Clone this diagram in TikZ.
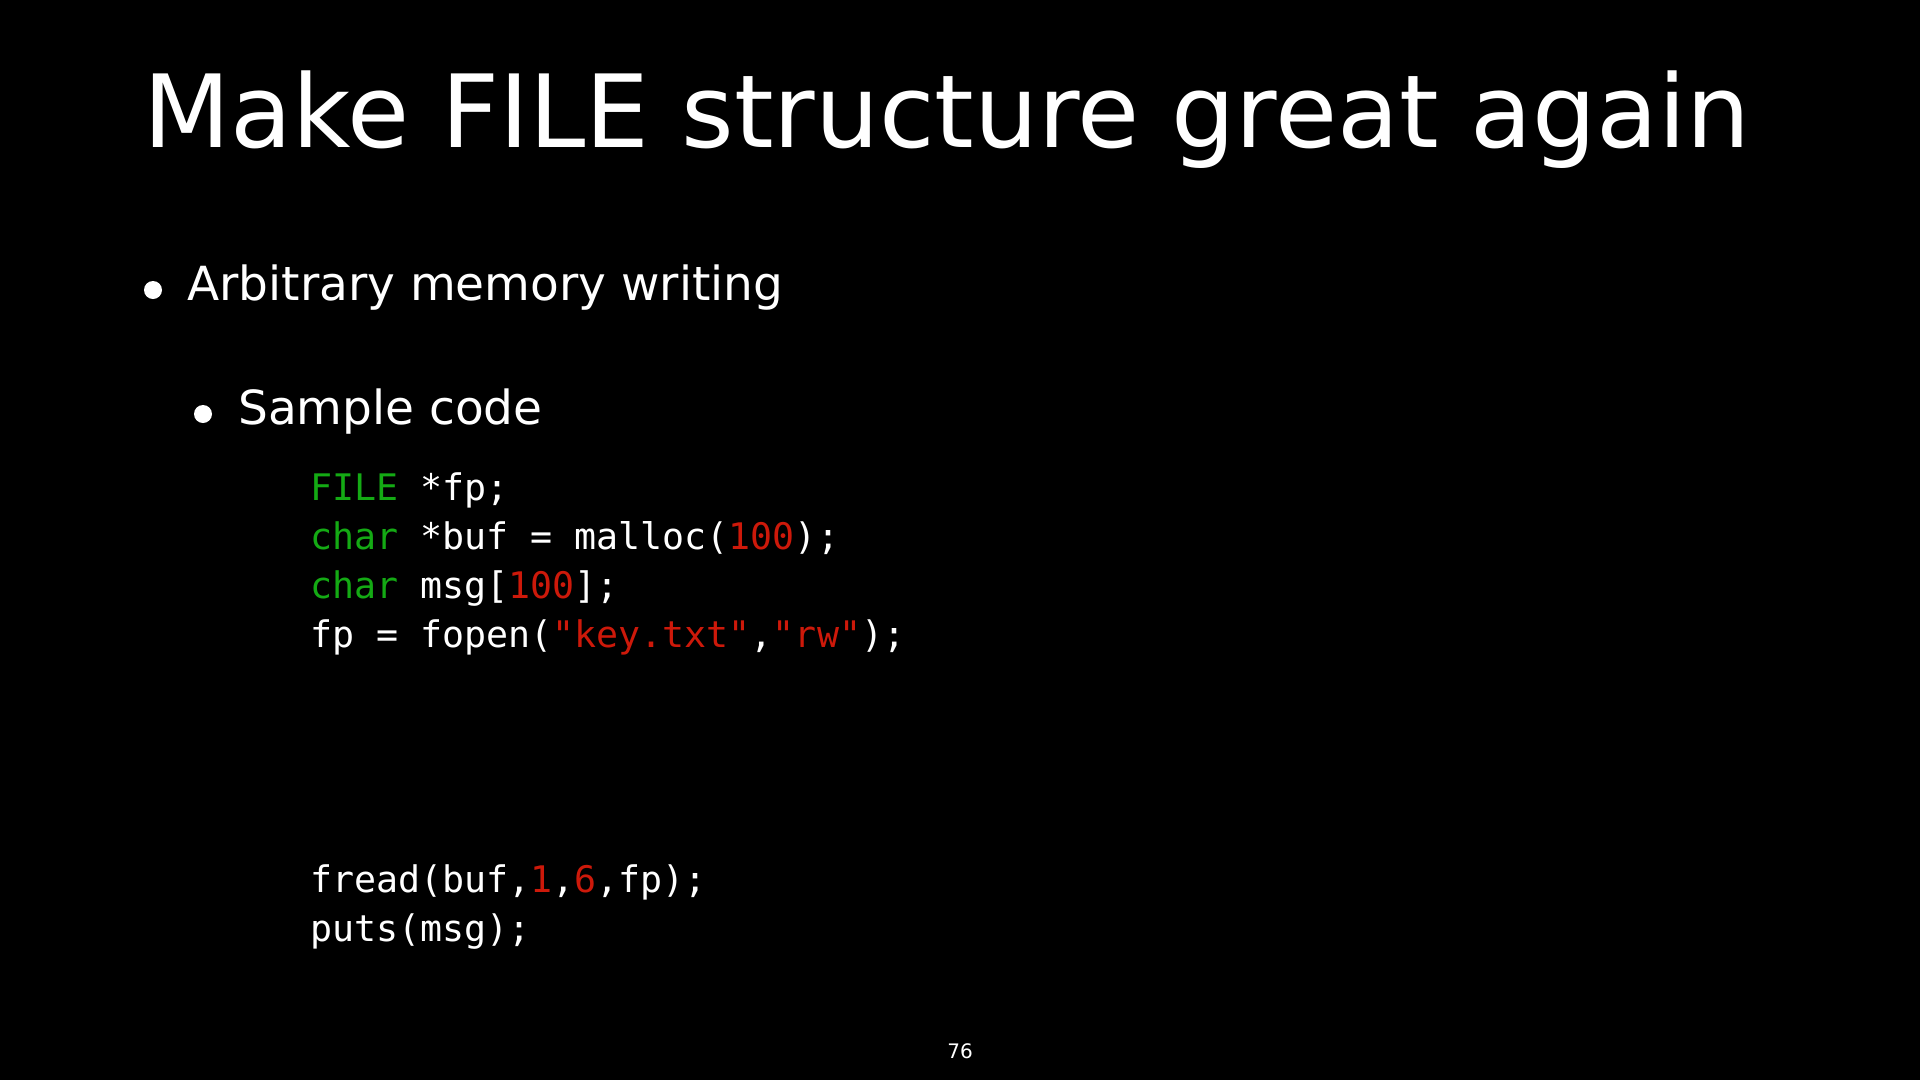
\documentclass[tikz,border=0pt]{standalone}
\usepackage{fontspec}
\setmainfont{DejaVu Sans}
\setmonofont{DejaVu Sans Mono}
\usepackage{xcolor}
\usetikzlibrary{positioning}
\definecolor{kwgreen}{RGB}{20,170,20}
\definecolor{numred}{RGB}{205,25,10}

\begin{document}
\begin{tikzpicture}[x=1pt, y=-1pt,
  title/.style={anchor=base west, inner sep=0pt, text=white, font=\fontsize{101}{112}\selectfont},
  item/.style={anchor=base west, inner sep=0pt, text=white, font=\fontsize{47}{56}\selectfont},
  dot/.style={circle, fill=white, inner sep=0pt, minimum size=18pt},
  code/.style={anchor=base west, inner sep=0pt, text=white, font=\ttfamily\fontsize{36.6}{42}\selectfont}
]
\fill[black] (0,0) rectangle (1920,1080);
\useasboundingbox (0,0) rectangle (1920,1080);

% Title
\node[title] (ttl) at (143,147) {Make FILE structure great again};

% Bullets
\node[dot] (d1) at (153,290) {};
\node[item] (b1) at (187,300) {Arbitrary memory writing};
\node[dot] (d2) at (203,414) {};
\node[item] (b2) at (238,424) {Sample code};

% Code
\node[code] (c1) at (310,500) {\textcolor{kwgreen}{FILE} *fp;};
\node[code] (c2) at (310,549) {\textcolor{kwgreen}{char} *buf = malloc(\textcolor{numred}{100});};
\node[code] (c3) at (310,598) {\textcolor{kwgreen}{char} msg[\textcolor{numred}{100}];};
\node[code] (c4) at (310,647) {fp = fopen(\textcolor{numred}{"key.txt"},\textcolor{numred}{"rw"});};
\node[code] (c5) at (310,892) {fread(buf,\textcolor{numred}{1},\textcolor{numred}{6},fp);};
\node[code] (c6) at (310,941) {puts(msg);};

% Page number
\node[anchor=base, inner sep=0pt, text=white, font=\fontsize{20}{24}\selectfont] (pg) at (960,1058) {76};
\end{tikzpicture}
\end{document}
